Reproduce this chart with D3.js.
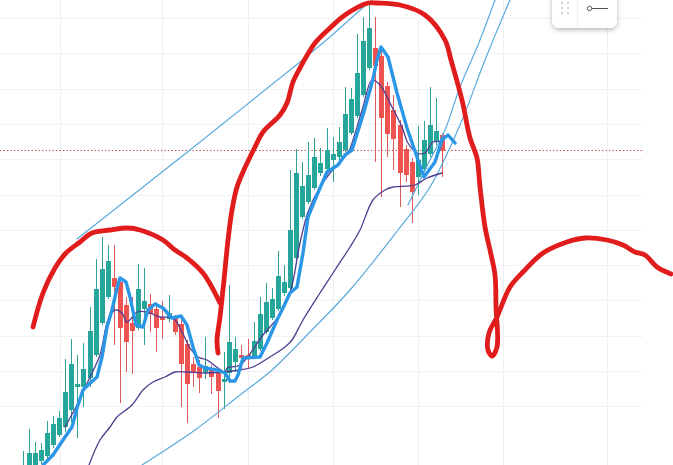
<!DOCTYPE html>
<html><head><meta charset="utf-8">
<script src="https://cdn.jsdelivr.net/npm/d3@7"></script>
<style>html,body{margin:0;padding:0;background:#fff;overflow:hidden}svg{display:block}</style>
</head><body><div id="chart"></div>
<script>
const candleTimes=[23,29,35,41,47,53,59,65,71,77,83,90,96,102,108,114,120,126,132,138,144,150,156,162,169,175,181,187,193,199,205,211,218,224,229,235,241,248,254,260,266,272,278,284,290,296,302,308,314,320,327,333,339,345,351,357,363,369,375,381,387,393,400,406,412,418,424,430,436,442];
const opens=[-8,-5,-5,4,9,20,30,38,55,78,78,87,110,142,168,187,183,160,142,137,156,161,156,147,146,149,141,121,101,98,93,95,92,83,92,103,110,110,108,116,133,147,156,172,177,207,248,263,277,292,296,305,308,315,332,349,370,397,417,409,379,355,340,316,303,288,296,311,323,330];
const closes=[-3,12,12,15,32,41,47,73,101,81,96,134,176,196,204,178,137,123,134,176,164,151,137,145,152,133,101,81,93,87,99,88,74,86,123,116,107,106,124,151,163,166,189,183,235,292,279,290,308,302,315,311,323,351,366,392,424,437,399,347,331,326,292,290,273,305,325,340,334,314];
const highs=[14,36,23,22,44,49,54,106,126,110,122,158,206,228,220,220,186,168,168,201,197,171,163,164,170,150,147,125,108,105,128,100,95,113,180,128,120,126,143,168,182,177,214,200,295,316,303,323,327,317,337,328,338,378,377,431,448,463,448,418,383,370,345,320,307,339,344,378,367,332];
const lows=[-10,-12,-8,1,5,17,28,33,43,27,58,78,108,140,166,120,62,93,91,135,120,133,113,126,143,130,58,42,78,72,86,71,47,56,82,93,95,97,106,114,131,145,154,169,175,205,246,261,275,289,293,283,305,313,330,347,368,395,303,268,308,295,258,283,242,270,293,308,320,288];

const fastTimes=[43,53,63,72,77,83,88,97,102,107,112,117,120,126,130,136,143,148,155,163,172,181,187,193,199,205,217,225,230,235,238,240,243,260,267,277,283,290,297,303,308,317,327,338,345,352,363,372,377,381,388,397,407,418,424,435,442,448,455];
const fastValues=[0,10,25,38,57,75,80,88,108,138,155,177,187,183,168,140,138,155,161,157,147,149,140,118,100,97,95,92,84,84,90,97,107,108,122,145,157,172,178,212,248,270,293,300,310,315,350,382,405,418,408,372,337,305,288,303,325,330,322];
const midTimes=[65,78,90,100,108,115,122,127,137,147,160,173,182,190,198,207,218,225,227,240,263,278,290,300,308,320,335,348,353,363,372,380,392,402,408,417,425,433,442];
const midValues=[38,62,88,110,145,155,152,143,153,153,148,147,133,117,108,105,97,93,97,100,130,148,172,222,253,278,298,312,325,358,385,380,358,338,322,312,312,323,323];
const slowTimes=[89,100,110,117,132,143,153,165,175,187,207,240,253,270,285,292,303,320,335,350,360,373,385,393,415,427,442];
const slowValues=[0,25,38,48,60,75,83,88,93,93,92,95,98,108,118,125,145,172,195,218,235,265,275,278,280,287,292];

const channelTopTimes=[77,190,300,330,368];
const channelTopValues=[226,315,403,428,462];
const channelLowTimes=[142,195,240,272,310,350,398,430,460,485,510];
const channelLowValues=[0,35,70,95,133,175,235,278,340,405,465];
const channelInnerTimes=[408,430,445,460,478,495];
const channelInnerValues=[260,305,335,378,420,465];

const sketchATimes=[33,43,55,66,80,92,110,128,140,163,175,187,203,220];
const sketchAValues=[138,172,197,212,223,232,235,237,235,225,215,207,192,162];
const sketchBTimes=[218,217,220,224,228,232,237,243,255,263,280,287,293,300,315,330,345,368,377,400,425,445,451,462,470,477,480,485,490,495,496,497,492,488,489,497,510,523,543,567,585,607,623,635,645,657,671];
const sketchBValues=[112,125,148,185,225,255,278,293,318,333,350,362,383,397,422,437,450,462,462,460,450,425,405,365,327,307,278,238,215,190,158,118,109,115,132,148,178,193,212,223,227,225,220,213,210,198,191];

const referencePrice=[315];
const gridPrices=[447,412,376,341,306,270,235,200,165,129,94,59];
const gridTimes=[60,162,248,333,418,503,607];

const W=673,H=465;
const x=d3.scaleLinear().domain([0,W]).range([0,W]);
const y=d3.scaleLinear().domain([0,H]).range([H,0]);
const svg=d3.select('#chart').append('svg').attr('width',W).attr('height',H);
const defs=svg.append('defs');
const f=defs.append('filter').attr('id','sh').attr('x','-30%').attr('y','-30%').attr('width','160%').attr('height','170%');
f.append('feDropShadow').attr('dx',0).attr('dy',2).attr('stdDeviation',2.5).attr('flood-color','#000').attr('flood-opacity',0.28);

svg.append('g').selectAll('line').data(gridPrices).join('line')
 .attr('x1',0).attr('x2',643).attr('y1',d=>y(d)+0.5).attr('y2',d=>y(d)+0.5).attr('stroke','#f1f3f5').attr('stroke-width',1);
svg.append('g').selectAll('line').data(gridTimes).join('line')
 .attr('x1',d=>x(d)+0.5).attr('x2',d=>x(d)+0.5).attr('y1',0).attr('y2',H).attr('stroke','#eef0f3').attr('stroke-width',1);

svg.selectAll('.ref').data(referencePrice).join('line').attr('class','ref')
 .attr('x1',0).attr('x2',643).attr('y1',d=>y(d)+0.5).attr('y2',d=>y(d)+0.5)
 .attr('stroke','#b8403f').attr('stroke-width',1).attr('stroke-dasharray','1.3 2.2');

const col=i=>closes[i]>=opens[i]?'#26a69a':'#ef5350';
const wickCol=i=>closes[i]>=opens[i]?'#2fa294':'#dd5a5a';
const cg=svg.append('g');
const idx=d3.range(candleTimes.length);
cg.selectAll('.wick').data(idx).join('line').attr('class','wick')
 .attr('x1',i=>x(candleTimes[i])+0.5).attr('x2',i=>x(candleTimes[i])+0.5)
 .attr('y1',i=>y(highs[i])).attr('y2',i=>y(lows[i])).attr('stroke',wickCol).attr('stroke-width',1);
cg.selectAll('.body').data(idx).join('rect').attr('class','body')
 .attr('x',i=>x(candleTimes[i])-2).attr('width',5)
 .attr('y',i=>y(Math.max(opens[i],closes[i])))
 .attr('height',i=>Math.max(1.5,Math.abs(y(opens[i])-y(closes[i])))).attr('fill',col);

const path=(ts,vs,stroke,w,curve)=>svg.append('path')
 .attr('d',d3.line().x(i=>x(ts[i])).y(i=>y(vs[i])).curve(curve)(d3.range(ts.length)))
 .attr('fill','none').attr('stroke',stroke).attr('stroke-width',w)
 .attr('stroke-linecap','round').attr('stroke-linejoin','round');

path(channelTopTimes,channelTopValues,'#5aaade',1.2,d3.curveLinear);
path(channelLowTimes,channelLowValues,'#5aaade',1.2,d3.curveCatmullRom);
path(channelInnerTimes,channelInnerValues,'#5aaade',1.2,d3.curveCatmullRom);
path(slowTimes,slowValues,'#4f3d91',1.3,d3.curveCatmullRom);
path(midTimes,midValues,'#4f3d91',1.3,d3.curveCatmullRom);
path(fastTimes,fastValues,'#2a96e6',3.4,d3.curveLinear);
path(sketchATimes,sketchAValues,'#e01c1c',4.8,d3.curveCatmullRom);
path(sketchBTimes,sketchBValues,'#e01c1c',4.8,d3.curveCatmullRom);

const tb=svg.append('g');
tb.append('rect').attr('x',552).attr('y',-12).attr('width',65).attr('height',40).attr('rx',7).attr('fill','#fff').attr('filter','url(#sh)');
tb.append('line').attr('x1',577.5).attr('x2',577.5).attr('y1',0).attr('y2',28).attr('stroke','#eeeeee');
for(const a of [562,568]) for(const b of [3,8,13]) tb.append('circle').attr('cx',a).attr('cy',b).attr('r',1.1).attr('fill','#c4c6cc');
tb.append('line').attr('x1',592).attr('x2',608).attr('y1',8.5).attr('y2',8.5).attr('stroke','#555').attr('stroke-width',1);
tb.append('circle').attr('cx',589.5).attr('cy',8.5).attr('r',2.2).attr('fill','#fff').attr('stroke','#555').attr('stroke-width',1);
</script></body></html>
